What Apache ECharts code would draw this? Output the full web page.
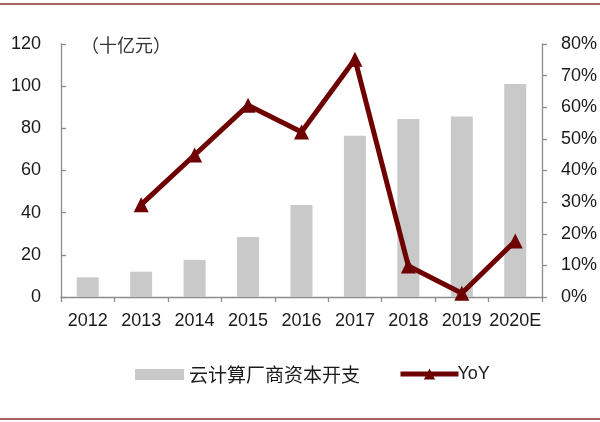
<!DOCTYPE html>
<html>
<head>
<meta charset="utf-8">
<script src="https://cdn.jsdelivr.net/npm/echarts@6/dist/echarts.min.js"></script>
<style>html,body{margin:0;padding:0;background:#fff}#c{width:600px;height:422px}</style>
</head>
<body>
<div id="c"></div>
<script>
const categories = ['2012','2013','2014','2015','2016','2017','2018','2019','2020E'];
const capexValues = [9.3, 12.0, 17.6, 28.5, 43.6, 76.5, 84.4, 85.6, 101.0];
const yoyValues = [null, 0.292, 0.449, 0.606, 0.522, 0.752, 0.098, 0.012, 0.177];
const leftTicks = [0, 20, 40, 60, 80, 100, 120];
const rightTicks = [0, 0.1, 0.2, 0.3, 0.4, 0.5, 0.6, 0.7, 0.8];
const barName = '云计算厂商资本开支';
const lineName = 'YoY';
const unitLabel = '（十亿元）';

const chart = echarts.init(document.getElementById('c'), null, {renderer: 'canvas'});
const labelFont = {fontFamily: 'Liberation Sans', fontSize: 18, color: '#1a1a1a'};
const axisLineStyle = {lineStyle: {color: '#8c8c8c', width: 1.3}};
chart.setOption({
  animation: false,
  backgroundColor: '#fff',
  grid: {left: 61, right: 57.5, top: 44, bottom: 125, containLabel: false},
  legend: [
    {data: [{name: barName, icon: 'rect'}], left: 130, top: 360, itemWidth: 49, itemHeight: 11, itemGap: 0,
     textStyle: {fontFamily: 'Noto Sans CJK SC', fontSize: 19, color: '#1a1a1a'}},
    {data: [lineName], left: 393, top: 360, itemWidth: 58, itemHeight: 14,
     lineStyle: {width: 5, color: '#6e0000'},
     textStyle: {fontFamily: 'Liberation Sans', fontSize: 18, color: '#1a1a1a', padding: [0,0,0,-6]}}
  ],
  xAxis: {
    type: 'category', data: categories,
    axisLine: axisLineStyle,
    axisTick: {show: true, alignWithLabel: false, length: 5, lineStyle: {color: '#8c8c8c', width: 1.3}},
    axisLabel: Object.assign({margin: 15, interval: 0}, labelFont)
  },
  yAxis: [
    {type: 'value', min: leftTicks[0], max: leftTicks[leftTicks.length-1], interval: 20,
     axisLine: Object.assign({show: true}, axisLineStyle),
     axisTick: {show: true, inside: true, length: 5, lineStyle: {color: '#8c8c8c', width: 1.3}},
     splitLine: {show: false},
     axisLabel: Object.assign({margin: 20}, labelFont)},
    {type: 'value', min: rightTicks[0], max: rightTicks[rightTicks.length-1], interval: 0.1,
     axisLine: Object.assign({show: true}, axisLineStyle),
     axisTick: {show: true, length: 5, lineStyle: {color: '#8c8c8c', width: 1.3}},
     splitLine: {show: false},
     axisLabel: Object.assign({margin: 19, formatter: v => Math.round(v*100) + '%'}, labelFont)}
  ],
  graphic: [
    {type: 'text', left: 81, top: 36, style: {text: unitLabel, fontFamily: 'Noto Sans CJK SC', fontSize: 18, fill: '#333'}},
    {type: 'line', shape: {x1: 0, y1: 4, x2: 600, y2: 4}, style: {stroke: '#8e2f2f', lineWidth: 1.5}},
    {type: 'line', shape: {x1: 0, y1: 419, x2: 600, y2: 419}, style: {stroke: '#8e2f2f', lineWidth: 1.5}}
  ],
  series: [
    {name: barName, type: 'bar', data: capexValues, yAxisIndex: 0, barWidth: 22,
     itemStyle: {color: '#c9c9c9'}},
    {name: lineName, type: 'line', data: yoyValues, yAxisIndex: 1,
     symbol: 'triangle', symbolSize: 15, showAllSymbol: true,
     lineStyle: {color: '#6e0000', width: 5},
     itemStyle: {color: '#6e0000'}}
  ]
});
</script>
</body>
</html>
